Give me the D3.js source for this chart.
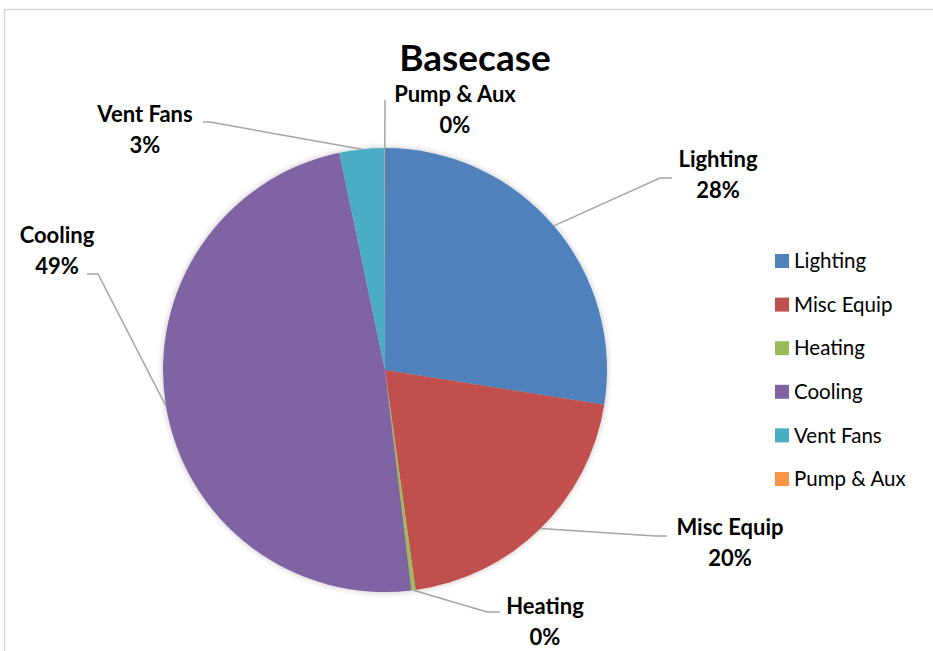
<!DOCTYPE html>
<html>
<head>
<meta charset="utf-8">
<script src="https://cdn.jsdelivr.net/npm/d3@7"></script>
<style>
  html, body { margin: 0; padding: 0; background: #fff; }
  svg { display: block; }
</style>
</head>
<body>
<svg id="chart" width="933" height="651"></svg>
<script>
// ---- data ----
const categories = ["Lighting", "Misc Equip", "Heating", "Cooling", "Vent Fans", "Pump & Aux"];
const values = [27.5, 20.3, 0.3, 48.6, 3.27, 0.03];
const pctLabels = ["28%", "20%", "0%", "49%", "3%", "0%"];
const colors = ["#4F81BD", "#C0504D", "#9BBB59", "#8064A2", "#4BACC6", "#F79646"];
const title = "Basecase";

// ---- label layout (elbow point, end point, text anchor position) ----
const labelLayout = [
  { elbow: [660, 178], end: [672, 178], tx: 718, ty: 167, anchor: "middle" },
  { elbow: [655, 536], end: [667, 536], tx: 730, ty: 535, anchor: "middle" },
  { elbow: [487, 612], end: [500, 612], tx: 545, ty: 614, anchor: "middle" },
  { elbow: [98, 274],  end: [87, 274],  tx: 57,  ty: 243, anchor: "middle" },
  { elbow: [210, 122], end: [203, 122], tx: 145, ty: 122, anchor: "middle" },
  { elbow: [385, 100], end: [385, 100], tx: 455, ty: 102, anchor: "middle" }
];

const W = 933, H = 651;
const cx = 385, cy = 370, R = 222;
const svg = d3.select("#chart");
const FONT = "Lato, 'Open Sans', sans-serif";

// frame
svg.append("rect")
  .attr("x", 4.5).attr("y", 9.5)
  .attr("width", W + 10).attr("height", H + 10)
  .attr("fill", "#fff").attr("stroke", "#d9d9d9").attr("stroke-width", 1.5);

// shadow filter
const defs = svg.append("defs");
const f = defs.append("filter").attr("id", "shadow")
  .attr("x", "-10%").attr("y", "-10%").attr("width", "120%").attr("height", "120%");
f.append("feGaussianBlur").attr("in", "SourceAlpha").attr("stdDeviation", 3).attr("result", "blur");
f.append("feComponentTransfer").attr("in", "blur").attr("result", "soft")
  .append("feFuncA").attr("type", "linear").attr("slope", 0.25);
const fm = f.append("feMerge");
fm.append("feMergeNode").attr("in", "soft");
fm.append("feMergeNode").attr("in", "SourceGraphic");

// title
svg.append("text")
  .attr("x", 475).attr("y", 71)
  .attr("text-anchor", "middle")
  .attr("font-family", FONT)
  .attr("font-weight", "bold")
  .attr("font-size", 37)
  .attr("fill", "#000")
  .text(title);

const data = categories.map((c, i) => ({ name: c, value: values[i], pct: pctLabels[i], color: colors[i], layout: labelLayout[i] }));

const pie = d3.pie().value(d => d.value).sort(null);
const arcs = pie(data);
const arc = d3.arc().innerRadius(0).outerRadius(R);

const g = svg.append("g").attr("transform", `translate(${cx},${cy})`);
g.append("g").attr("filter", "url(#shadow)")
  .selectAll("path").data(arcs).join("path")
  .attr("d", arc)
  .attr("fill", d => d.data.color)
  .attr("stroke", "none");

// leader lines
const outerPt = d => {
  const a = (d.startAngle + d.endAngle) / 2;
  return [cx + R * Math.sin(a), cy - R * Math.cos(a)];
};
svg.append("g").selectAll("polyline").data(arcs).join("polyline")
  .attr("points", d => [outerPt(d), d.data.layout.elbow, d.data.layout.end].map(p => p.join(",")).join(" "))
  .attr("fill", "none")
  .attr("stroke", "#a6a6a6")
  .attr("stroke-width", 1.5);

// data labels
const lbl = svg.append("g").selectAll("text").data(arcs).join("text")
  .attr("text-anchor", d => d.data.layout.anchor)
  .attr("font-family", FONT)
  .attr("font-weight", "bold")
  .attr("font-size", 22)
  .attr("fill", "#000");
lbl.append("tspan")
  .attr("x", d => d.data.layout.tx).attr("y", d => d.data.layout.ty)
  .text(d => d.data.name);
lbl.append("tspan")
  .attr("x", d => d.data.layout.tx).attr("dy", 31)
  .text(d => d.data.pct);

// legend
const legY = d3.scalePoint().domain(categories).range([261, 479]);
const leg = svg.append("g").selectAll("g").data(data).join("g")
  .attr("transform", d => `translate(775,${legY(d.name)})`);
leg.append("rect").attr("x", 0).attr("y", -7).attr("width", 14).attr("height", 14)
  .attr("fill", d => d.color);
leg.append("text").attr("x", 19).attr("y", 0).attr("dy", "0.35em")
  .attr("font-family", FONT)
  .attr("font-size", 20.5)
  .attr("fill", "#000")
  .text(d => d.name);
</script>
</body>
</html>
